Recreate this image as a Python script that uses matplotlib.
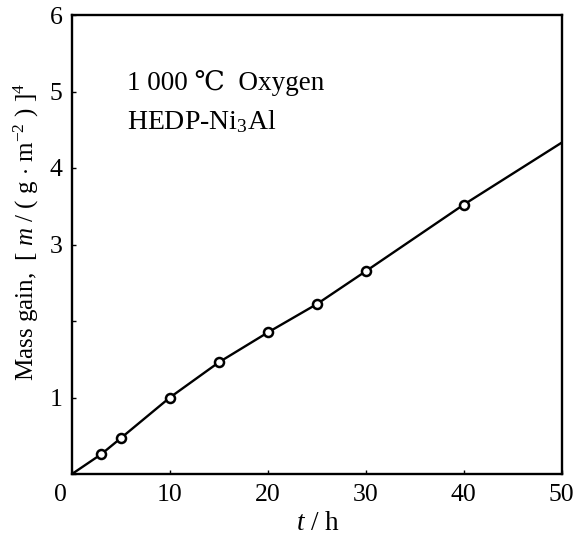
import matplotlib
matplotlib.use("Agg")
import matplotlib.pyplot as plt
import matplotlib.transforms as mtransforms

plt.rcParams['font.family'] = ['Liberation Serif', 'DejaVu Serif', 'Noto Sans CJK SC']
plt.rcParams['mathtext.fontset'] = 'custom'
plt.rcParams['mathtext.rm'] = 'Liberation Serif'
plt.rcParams['mathtext.it'] = 'Liberation Serif:italic'
plt.rcParams['mathtext.bf'] = 'Liberation Serif:bold'

# data
time_h = [3, 5, 10, 15, 20, 25, 30, 40]
mass_gain4 = [0.26, 0.47, 1.00, 1.46, 1.85, 2.22, 2.65, 3.52]
fit_t = [0, 3, 5, 10, 15, 20, 25, 30, 40, 50]
fit_y = [0.0, 0.26, 0.47, 1.00, 1.46, 1.85, 2.22, 2.65, 3.52, 4.33]
x_ticks = [0, 10, 20, 30, 40, 50]
x_tick_labels = ['0', '10', '20', '30', '40', '50']
y_ticks = [0, 1, 2, 3, 4, 5, 6]
y_tick_labels = ['', '1', '', '3', '4', '5', '6']

fig = plt.figure(figsize=(5.76, 5.36), dpi=100)
ax = fig.add_axes([72/576, 1-474/536, (561.5-72)/576, (474-15)/536])

ax.plot(fit_t, fit_y, color='black', lw=1.7, zorder=2)
ax.plot(time_h, mass_gain4, linestyle='none', marker='o', ms=6.5,
        mfc='white', mec='black', mew=1.8, zorder=3)

ax.set_xlim(0, 50)
ax.set_ylim(0, 6)
ax.set_xticks(x_ticks)
ax.set_xticklabels(x_tick_labels)
ax.set_yticks(y_ticks)
ax.set_yticklabels(y_tick_labels)
ax.tick_params(direction='in', length=3, width=1.0, labelsize=18.5, pad=7)
for s in ax.spines.values():
    s.set_linewidth(1.7)

# shift the corner "0" label left like the reference
lab0 = ax.get_xticklabels()[0]
lab0.set_transform(lab0.get_transform() + mtransforms.ScaledTranslation(-12/100, 0, fig.dpi_scale_trans))

fig.text(26/576, 1-232/536, r"Mass gain,  [ $m$ / ( g $\cdot$ m$^{-2}$ ) ]$^4$",
         rotation=90, ha='center', va='center', fontsize=18)
fig.text(318/576, 1-523/536, r"$t$ / h", ha='center', va='center', fontsize=19.5)

ax.text(127/576, 1-83/536, "1 000 ℃  Oxygen", transform=fig.transFigure,
        ha='left', va='center', fontsize=19.5)
ax.text(127/576, 1-122/536, r"HEDP-Ni$_3$Al", transform=fig.transFigure,
        ha='left', va='center', fontsize=20)

fig.savefig("out.png", dpi=100)
